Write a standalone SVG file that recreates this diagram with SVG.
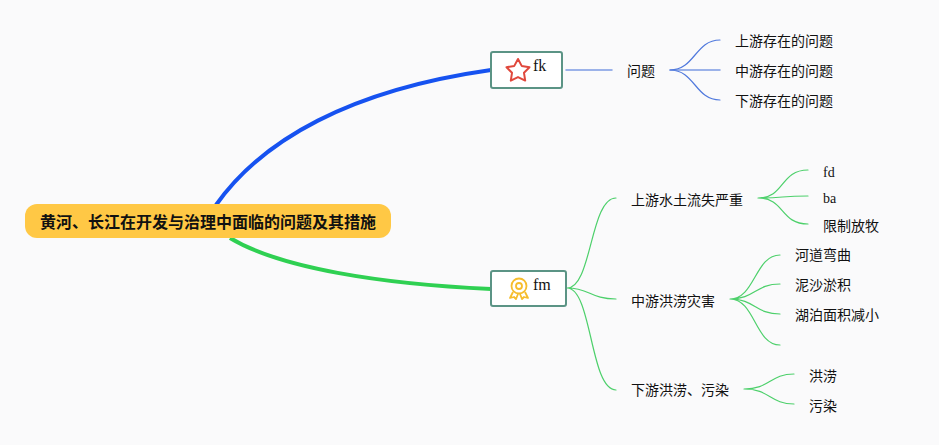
<svg xmlns="http://www.w3.org/2000/svg" width="939" height="445" viewBox="0 0 939 445">
<style>
.bg{fill:#fafafb}
.t{font-family:"Liberation Serif","Noto Sans CJK SC",serif;font-size:14px;fill:#111}
.l{font-family:"Liberation Serif",serif;font-size:16px;fill:#111}
.root{font-family:"Noto Sans CJK SC","Noto Sans",sans-serif;font-size:16px;font-weight:700;fill:#111}
.box{fill:#fff;stroke:#5b9485;stroke-width:2}
.b,.g{fill:none;stroke-linecap:round}
.b{stroke:#5079dd;stroke-width:1.200}
.g{stroke:#4dd06b;stroke-width:1.200}
</style>
<rect class="bg" width="939" height="445"/>
<g id="connectors">
<path fill="none" stroke="#1652f0" stroke-width="4" d="M216 205C262 140 350 90 491 70"/>
<path fill="none" stroke="#2fd052" stroke-width="4" d="M230 238C280 268 380 284 491 289"/>
<path class="b" style="stroke-width:1.500;stroke:#7c9ae4" d="M566 70H612M670 70H720"/>
<path class="b" d="M670 70C695 70 695 40 720 40M670 70C695 70 695 100 720 100"/>
<path class="g" d="M567 288C592 288 590 198 616 198M567 288C590 288 590 299 616 299M567 288C592 288 590 390 616 390"/>
<path class="g" d="M758 198C785 198 780 170 808 170M758 198C785 198 780 196 808 196M758 198C785 198 780 224 808 224"/>
<path class="g" d="M730 299C755 299 755 255 780 255M730 299C755 299 755 284 780 284M730 299C755 299 755 314 780 314M730 299C755 299 755 345 780 345"/>
<path class="g" d="M744 389C770 389 770 374 794 374M744 389C770 389 770 404 794 404"/>
</g>
<g id="root">
<rect x="25" y="204" width="366" height="34" rx="12" fill="#ffc845"/>
<text class="root" x="208" y="228" text-anchor="middle" textLength="336" lengthAdjust="spacingAndGlyphs">黄河、长江在开发与治理中面临的问题及其措施</text>
</g>
<g id="node-fk">
<rect class="box" x="491" y="52" width="71" height="36" rx="2"/>
<path d="M518 59L521.700 65.900 529.500 67.200 524 72.800 525.200 80.600 518 77.100 510.800 80.600 512 72.800 506.500 67.200 514.300 65.900Z" fill="#fff" stroke="#e0483c" stroke-width="2" stroke-linejoin="round"/>
<text class="l" x="533" y="71">fk</text>
</g>
<g id="node-fm">
<rect class="box" x="491" y="271" width="75" height="35" rx="2"/>
<g fill="none" stroke="#f6bd2d" stroke-width="1.800">
<circle cx="519" cy="286" r="7.500"/><circle cx="519" cy="286" r="3"/>
<path d="M513 292L510 298 514 297 516 299 518 294M525 292L528 298 524 297 522 299 520 294" stroke-linejoin="round"/>
</g>
<text class="l" x="533" y="290">fm</text>
</g>
<g id="n1"><text class="t" x="627" y="76">问题</text></g>
<g id="n11"><text class="t" x="735" y="46">上游存在的问题</text></g>
<g id="n12"><text class="t" x="735" y="76">中游存在的问题</text></g>
<g id="n13"><text class="t" x="735" y="106">下游存在的问题</text></g>
<g id="n2"><text class="t" x="631" y="205">上游水土流失严重</text></g>
<g id="n21"><text class="t" x="823" y="177">fd</text></g>
<g id="n22"><text class="t" x="823" y="203">ba</text></g>
<g id="n23"><text class="t" x="823" y="231">限制放牧</text></g>
<g id="n3"><text class="t" x="631" y="306">中游洪涝灾害</text></g>
<g id="n31"><text class="t" x="795" y="260">河道弯曲</text></g>
<g id="n32"><text class="t" x="795" y="290">泥沙淤积</text></g>
<g id="n33"><text class="t" x="795" y="320">湖泊面积减小</text></g>
<g id="n4"><text class="t" x="631" y="395">下游洪涝、污染</text></g>
<g id="n41"><text class="t" x="809" y="381">洪涝</text></g>
<g id="n42"><text class="t" x="809" y="411">污染</text></g>
</svg>
